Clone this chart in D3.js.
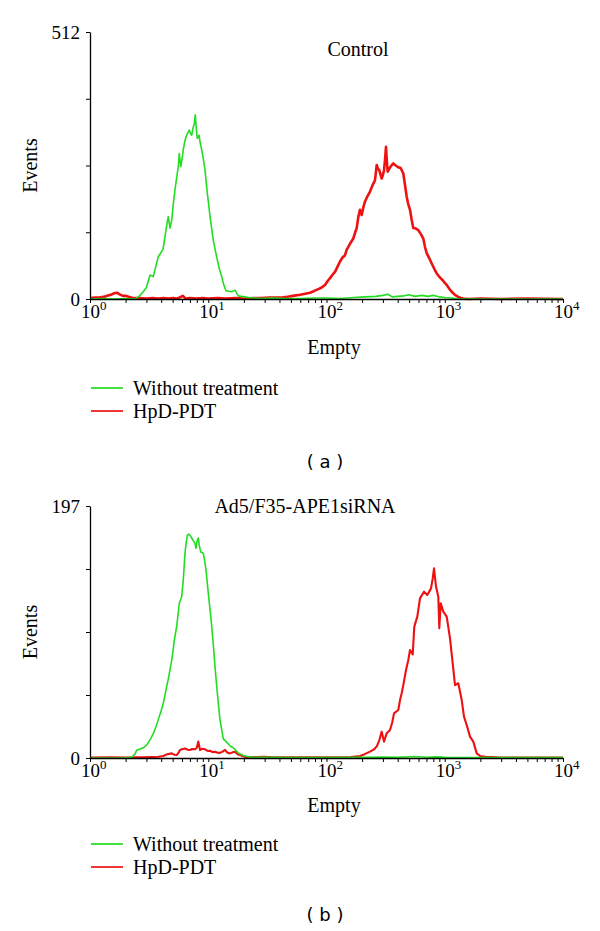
<!DOCTYPE html>
<html>
<head>
<meta charset="utf-8">
<script src="https://cdn.jsdelivr.net/npm/d3@7/dist/d3.min.js"></script>
<style>
  html, body { margin: 0; padding: 0; background: #fff; }
  svg { display: block; }
</style>
</head>
<body>
<script>
// ---------- DATA ----------
// x decades for the log axis and their labels
const xDecades = [1, 10, 100, 1000, 10000];
const xTickBase = ["10", "10", "10", "10", "10"];
const xTickExp = ["0", "1", "2", "3", "4"];

const seriesNames = ["Without treatment", "HpD-PDT"];
const panelTitles = ["Control", "Ad5/F35-APE1siRNA"];
const panelCaptions = ["( a )", "( b )"];
const panelMax = [512, 197];
const xAxisTitle = "Empty";
const yAxisTitle = "Events";

// Panel (a) Control — [fluorescence channel, events]
const ctrlGreen = [[1.0,0],[1.3,1],[1.6,0],[2.0,1],[2.4,0],[2.6,5],[2.82,14],[3.0,22],[3.22,46],[3.43,43],[3.6,62],[3.78,81],[4.04,91],[4.15,96],[4.31,120],[4.45,140],[4.59,158],[4.75,136],[4.91,151],[5.05,180],[5.23,209],[5.4,232],[5.58,254],[5.69,279],[5.85,254],[6.0,268],[6.15,286],[6.3,300],[6.48,311],[6.7,318],[6.91,324],[7.05,318],[7.24,314],[7.47,330],[7.6,335],[7.77,353],[7.9,330],[8.08,308],[8.35,314],[8.55,300],[8.8,286],[9.1,268],[9.39,247],[9.6,225],[9.82,203],[10.1,180],[10.35,158],[10.7,135],[11.03,113],[11.5,92],[11.93,75],[12.4,58],[12.99,43],[13.5,28],[14.13,16],[14.9,15],[15.79,14],[16.84,17],[17.95,6],[19,5],[20.46,4],[22,3],[24.05,2],[28,1],[35,2],[45,1],[60,1],[80,2],[100,2],[130,1],[170,3],[210,4],[260,5],[300,7],[330,9],[360,4],[400,5],[450,6],[500,8],[560,5],[640,7],[720,5],[800,7],[900,4],[1000,3],[1150,2],[1300,0],[2000,0],[10000,0]];

const ctrlRed = [[1.0,2],[1.1,3],[1.2,3],[1.3,4],[1.4,6],[1.5,8],[1.6,11],[1.69,12],[1.78,9],[1.9,6],[2.0,6],[2.15,4],[2.3,2],[2.6,2],[3.0,1],[3.4,2],[3.8,1],[4.2,2],[4.6,1],[5.0,2],[5.5,1],[6.1,6],[6.4,1],[7,2],[8,1],[9,2],[10,1],[12,2],[14,1],[17,2],[20,1],[24,2],[28,2],[33,3],[38,3],[42,3],[46.1,4],[52,6],[59.7,8],[66,10],[72.5,12],[78,15],[85.2,19],[91,22],[97.1,27],[102,34],[107.1,40],[112,46],[118,52],[124,62],[130.1,72],[136,79],[143.4,84],[148,94],[152.9,100],[160,108],[168.5,116],[175,128],[180,136],[186,158],[192,171],[198.5,161],[205,176],[211.7,187],[222,197],[233.3,206],[245,218],[257.2,228],[265.8,257],[272,250],[279.6,247],[293,231],[300,238],[306.4,247],[312,265],[318.6,292],[323,268],[329.2,244],[340,250],[349.1,254],[360,258],[367.2,260],[380,257],[396.8,254],[410,252],[424.1,251],[435,246],[446.2,241],[460,220],[476.8,196],[490,183],[508.4,171],[525,152],[542,136],[570,135],[597.5,132],[630,124],[658.6,116],[680,100],[703.8,88],[740,78],[775.6,68],[815,58],[855,49],[905,42],[960.9,36],[1000,31],[1038.7,27],[1090,20],[1145,14],[1220,8],[1302,4],[1370,2],[1435,1],[1600,0],[2000,1],[3000,0],[5000,1],[10000,0]];

// Panel (b) Ad5/F35-APE1siRNA
const siGreen = [[1.0,0],[1.5,0],[1.91,0],[2.25,0.5],[2.4,3],[2.48,6],[2.65,7],[2.82,8],[3.0,10],[3.11,12],[3.25,15],[3.43,19],[3.6,24],[3.78,30],[4.0,37],[4.17,43],[4.3,49],[4.45,56],[4.6,62],[4.75,69],[4.9,76],[5.01,82],[5.16,92],[5.41,103],[5.55,112],[5.69,121],[5.96,126],[6.15,139],[6.36,160],[6.5,168],[6.65,174],[6.85,175],[7.01,174],[7.25,172],[7.47,170],[7.7,168],[7.88,164],[8.05,170],[8.24,172],[8.4,166],[8.64,161],[9.08,160],[9.3,155],[9.57,147],[10.01,129],[10.35,116],[10.7,103],[11.05,88],[11.41,71],[11.93,51],[12.25,40],[12.57,30],[13.0,22],[13.41,15],[14.1,13],[14.78,11],[15.5,9],[16.29,8],[17.1,6],[17.95,4],[19.79,2],[22,1],[24.05,0.5],[30,0.5],[50,0.3],[100,0.3],[200,0.5],[300,0.8],[400,0.5],[550,1.2],[700,0.6],[850,0.9],[1000,0.5],[1500,0.3],[3000,0.3],[10000,0.3]];

const siRed = [[1.0,0.3],[1.5,0.5],[2.0,0.3],[2.5,0.5],[2.82,0.5],[3.3,0.8],[3.8,1],[4.17,1.6],[4.5,3],[4.91,3.6],[5.15,2.6],[5.41,2.3],[5.6,4],[5.77,6.3],[6.0,6.8],[6.36,7.5],[6.7,6.5],[7.01,6.3],[7.3,7],[7.73,6.8],[8.0,8],[8.24,12.8],[8.52,6.3],[8.9,7.2],[9.39,6.8],[9.9,5.5],[10.35,5.7],[10.9,4.6],[11.41,4.9],[12.0,4.1],[12.57,4],[13.2,5],[13.86,6.3],[14.5,4.2],[15.28,3.6],[16,4.4],[16.84,4.9],[17.7,3],[18.56,2.3],[20,1.2],[21.14,0.5],[25,0.8],[30,1],[35,0.5],[50,0.5],[80,0.6],[120,0.5],[160,0.8],[192,1.6],[210,3],[233.3,5],[250,6.5],[265.8,8.9],[280,14],[293,20.6],[306.4,12.8],[322.9,19.3],[344.4,21.9],[360,28],[372.3,34.9],[404.8,37.5],[420,46],[432.4,50.6],[446.2,57],[470.4,68.8],[491.9,76.6],[508.4,84.4],[535.8,81],[552.7,102.7],[586,110.5],[617.6,124.8],[667.6,130],[712,127.4],[765.2,132.6],[790,140],[811.3,148.3],[843.5,134],[882.2,126],[899.5,101.4],[924.5,121],[972.1,114.4],[1038.7,110.5],[1107.8,93.6],[1167.6,74],[1221,57],[1302,58.4],[1391,45.3],[1455,32.3],[1533,25.8],[1635,16.7],[1744,12.8],[1863,3.6],[1987,1.6],[2200,1],[2500,0.8],[3000,0.3],[10000,0.3]];

// ---------- LAYOUT ----------
const GREEN = "#22dd22", RED = "#ee1111";
const SERIF = "'Liberation Serif', 'Times New Roman', serif";
const SANS = "'DejaVu Sans', Verdana, sans-serif";

const panels = [
  { top: 32, bottom: 299, max: panelMax[0], title: panelTitles[0], titleX: 358, titleY: 56,
    green: ctrlGreen, red: ctrlRed, redW: 2.6, emptyY: 354, legY: 388, capY: 468, caption: panelCaptions[0] },
  { top: 506, bottom: 758, max: panelMax[1], title: panelTitles[1], titleX: 305, titleY: 513,
    green: siGreen, red: siRed, redW: 2.1, emptyY: 812, legY: 844, capY: 921, caption: panelCaptions[1] }
];

const svg = d3.select("body").append("svg").attr("width", 600).attr("height", 931)
  .style("background", "#fff");

const x = d3.scaleLog().domain([1, 10000]).range([90, 563]);
const minorTicks = [];
for (let k = 0; k < 4; k++) for (let m = 1; m <= 9; m++) minorTicks.push(m * Math.pow(10, k));
minorTicks.push(10000);

panels.forEach(p => {
  const y = d3.scaleLinear().domain([0, p.max]).range([p.bottom, p.top]);
  const g = svg.append("g");

  const line = d3.line().x(d => x(d[0])).y(d => y(d[1]));

  // curves
  g.append("path").datum(p.red).attr("d", line).attr("fill", "none")
    .attr("stroke", RED).attr("stroke-width", p.redW).attr("stroke-linejoin", "round");
  g.append("path").datum(p.green).attr("d", line).attr("fill", "none")
    .attr("stroke", GREEN).attr("stroke-width", 1.6).attr("stroke-linejoin", "round");

  // x axis
  const xa = g.append("g").attr("transform", `translate(0,${p.bottom})`)
    .call(d3.axisBottom(x).tickValues(minorTicks).tickSize(4).tickSizeOuter(0).tickFormat(""));
  xa.select(".domain").attr("stroke", "#000").attr("stroke-width", 1.3);
  xa.selectAll(".tick line").attr("stroke", "#000").attr("stroke-width", 1);

  xDecades.forEach((d, i) => {
    const t = g.append("text").attr("x", x(d) - 9).attr("y", p.bottom + 19)
      .attr("font-family", SERIF).attr("font-size", 19).attr("fill", "#000");
    t.append("tspan").text(xTickBase[i]);
    t.append("tspan").attr("dy", -8).attr("font-size", 13).text(xTickExp[i]);
  });

  // y axis
  const ya = g.append("g").attr("transform", "translate(90,0)")
    .call(d3.axisLeft(y).tickValues(d3.range(5).map(i => i * p.max / 4))
      .tickSize(4).tickSizeOuter(0).tickPadding(6)
      .tickFormat(d => (d === 0 || d === p.max) ? String(d) : ""));
  ya.select(".domain").attr("stroke", "#000").attr("stroke-width", 1.3);
  ya.selectAll(".tick line").attr("stroke", "#000");
  ya.selectAll(".tick text").attr("font-family", SERIF).attr("font-size", 19).attr("fill", "#000");

  // axis titles
  g.append("text").attr("transform", `translate(37,${(p.top + p.bottom) / 2}) rotate(-90)`)
    .attr("text-anchor", "middle").attr("font-family", SERIF).attr("font-size", 20).text(yAxisTitle);
  g.append("text").attr("x", 334).attr("y", p.emptyY).attr("text-anchor", "middle")
    .attr("font-family", SERIF).attr("font-size", 20).text(xAxisTitle);

  // panel title
  g.append("text").attr("x", p.titleX).attr("y", p.titleY).attr("text-anchor", "middle")
    .attr("font-family", SERIF).attr("font-size", 20).text(p.title);

  // legend
  [GREEN, RED].forEach((c, i) => {
    const ly = p.legY + i * 23;
    g.append("line").attr("x1", 91).attr("x2", 123).attr("y1", ly).attr("y2", ly)
      .attr("stroke", c).attr("stroke-width", 1.7);
    g.append("text").attr("x", 133).attr("y", ly + 6.5).attr("font-family", SERIF)
      .attr("font-size", 20).text(seriesNames[i]);
  });

  // caption
  g.append("text").attr("x", 325).attr("y", p.capY).attr("text-anchor", "middle")
    .attr("font-family", SANS).attr("font-size", 18).attr("xml:space", "preserve").text(p.caption);
});
</script>
</body>
</html>
